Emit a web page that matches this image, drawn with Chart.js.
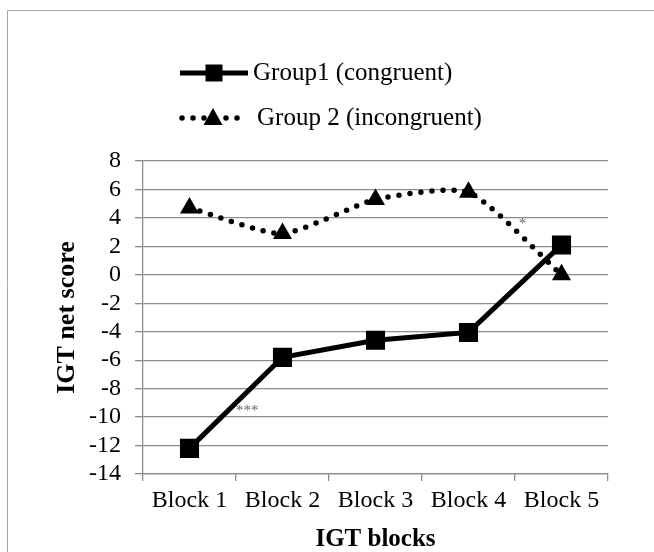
<!DOCTYPE html>
<html>
<head>
<meta charset="utf-8">
<script src="https://cdn.jsdelivr.net/npm/chart.js@4.4.1/dist/chart.umd.min.js"></script>
<style>
  body { margin: 0; background: #fff; }
  canvas { display: block; }
</style>
</head>
<body>
<canvas id="chart" width="654" height="552"></canvas>
<script>
var categories = ['Block 1', 'Block 2', 'Block 3', 'Block 4', 'Block 5'];
var group1Values = [-12.2, -5.8, -4.6, -4.05, 2.1];
var group2Values = [4.7, 2.9, 5.3, 5.8, 0.0];
var seriesNames = ['Group1 (congruent)', 'Group 2 (incongruent)'];
var yMin = -14, yMax = 8, yStep = 2;
// significance marks, placed in data units (category index, score)
var marks = [
  { x: 0.62, y: -9.6, text: '***' },
  { x: 3.58, y: 3.6, text: '*' }
];

var serif = "'Liberation Serif', 'Times New Roman', serif";
var gridGrey = '#8c8c8c';

// grey frame around the figure
var framePlugin = {
  id: 'frame',
  beforeDraw: function(chart) {
    var ctx = chart.ctx;
    ctx.save();
    ctx.strokeStyle = '#a6a6a6';
    ctx.lineWidth = 1;
    ctx.beginPath();
    ctx.moveTo(7.5, chart.height);
    ctx.lineTo(7.5, 10.5);
    ctx.lineTo(chart.width, 10.5);
    ctx.stroke();
    ctx.restore();
  }
};

function drawMarker(ctx, style, x, y) {
  ctx.beginPath();
  if (style === 'rect') {
    ctx.rect(x - 8.5, y - 8.5, 17, 17);
  } else {
    ctx.moveTo(x, y - 10);
    ctx.lineTo(x + 9.5, y + 7);
    ctx.lineTo(x - 9.5, y + 7);
    ctx.closePath();
  }
  ctx.fill();
}

// legend drawn as line sample with the marker in the middle
var legendPlugin = {
  id: 'lineLegend',
  afterDraw: function(chart) {
    var ctx = chart.ctx;
    var rows = [
      { y: 73, x0: 180, x1: 248, mx: 214, tx: 253 },
      { y: 118, x0: 182, x1: 238, mx: 213, tx: 257 }
    ];
    ctx.save();
    chart.data.datasets.forEach(function(ds, i) {
      var r = rows[i];
      ctx.strokeStyle = ds.borderColor;
      ctx.fillStyle = ds.borderColor;
      ctx.lineWidth = ds.borderWidth;
      ctx.lineCap = ds.borderCapStyle || 'butt';
      ctx.setLineDash(ds.borderDash || []);
      ctx.beginPath();
      ctx.moveTo(r.x0, r.y);
      ctx.lineTo(r.x1, r.y);
      ctx.stroke();
      ctx.setLineDash([]);
      drawMarker(ctx, ds.pointStyle, r.mx, r.y);
      ctx.font = '25px ' + serif;
      ctx.textBaseline = 'middle';
      ctx.textAlign = 'left';
      ctx.fillText(ds.label, r.tx, r.y);
    });
    ctx.restore();
  }
};

var marksPlugin = {
  id: 'marks',
  afterDatasetsDraw: function(chart) {
    var ctx = chart.ctx;
    var xs = chart.scales.x, ys = chart.scales.y;
    ctx.save();
    ctx.fillStyle = '#666';
    ctx.font = '15px ' + serif;
    ctx.textAlign = 'center';
    ctx.textBaseline = 'middle';
    marks.forEach(function(m) {
      ctx.fillText(m.text, xs.getPixelForValue(m.x), ys.getPixelForValue(m.y));
    });
    ctx.restore();
  }
};

var ctx = document.getElementById('chart');
var chart = new Chart(ctx, {
  type: 'line',
  data: {
    labels: categories,
    datasets: [{
      label: seriesNames[0],
      data: group1Values,
      borderColor: '#000',
      backgroundColor: '#000',
      borderWidth: 5,
      pointStyle: 'rect',
      pointRadius: 13.5,
      pointBorderWidth: 0,
      pointHoverRadius: 13.5,
      tension: 0
    }, {
      label: seriesNames[1],
      data: group2Values,
      borderColor: '#000',
      backgroundColor: '#000',
      borderWidth: 5.5,
      borderDash: [0, 11],
      borderCapStyle: 'round',
      pointStyle: 'triangle',
      pointRadius: 11,
      pointBorderWidth: 0,
      pointHoverRadius: 11,
      tension: 0.2
    }]
  },
  options: {
    responsive: false,
    animation: false,
    devicePixelRatio: 1,
    layout: { padding: { left: 0, right: 46, top: 161, bottom: 0 } },
    plugins: {
      legend: { display: false },
      tooltip: { enabled: false }
    },
    scales: {
      x: {
        offset: true,
        afterFit: function(s) { s.height = 78; },
        grid: { drawOnChartArea: false, offset: true, color: gridGrey, lineWidth: 1.3, tickLength: 7 },
        border: { color: gridGrey, width: 1.3 },
        ticks: { color: '#000', font: { family: serif, size: 24, lineHeight: 1 }, padding: 8, maxRotation: 0, autoSkip: false },
        title: { display: true, text: 'IGT blocks', color: '#000', font: { family: serif, size: 25, weight: 'bold', lineHeight: 1 }, padding: { top: 0, bottom: 0 } }
      },
      y: {
        min: yMin,
        max: yMax,
        afterFit: function(s) { s.width = 143; },
        grid: { color: gridGrey, lineWidth: 1.3, tickLength: 8 },
        border: { color: gridGrey, width: 1.3 },
        ticks: { stepSize: yStep, autoSkip: false, color: '#000', font: { family: serif, size: 24, lineHeight: 1 }, padding: 14 },
        title: { display: true, text: 'IGT net score', color: '#000', font: { family: serif, size: 26, weight: 'bold', lineHeight: 1 }, padding: { top: 54, bottom: 0 } }
      }
    }
  },
  plugins: [framePlugin, legendPlugin, marksPlugin]
});
</script>
</body>
</html>
